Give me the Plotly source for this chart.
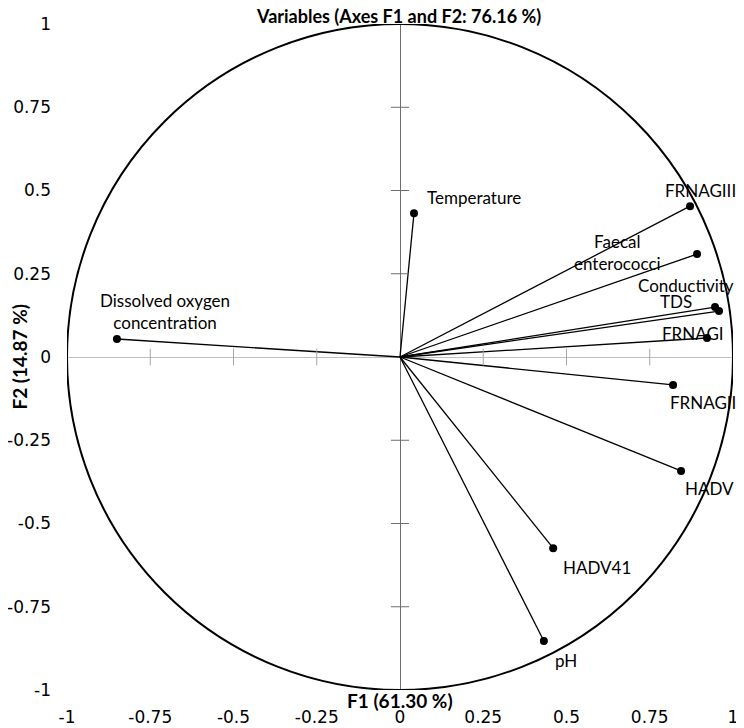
import plotly.graph_objects as go

# correlation circle, variables on F1/F2
variables = ['Temperature', 'FRNAGIII', 'Faecal<br>enterococci', 'Conductivity', 'TDS',
             'FRNAGI', 'FRNAGII', 'HADV', 'HADV41', 'pH', 'Dissolved oxygen<br>concentration']
f1 = [0.042, 0.871, 0.892, 0.946, 0.958, 0.922, 0.820, 0.844, 0.460, 0.432, -0.850]
f2 = [0.432, 0.453, 0.309, 0.150, 0.138, 0.057, -0.084, -0.342, -0.574, -0.853, 0.054]

tick_vals = [-1, -0.75, -0.5, -0.25, 0, 0.25, 0.5, 0.75, 1]
tick_text = ['-1', '-0.75', '-0.5', '-0.25', '0', '0.25', '0.5', '0.75', '1']

# label offsets in pixels (x, y up)
label_shift = [(60, 16), (10, 16), (-80, 2), (-29, 22), (-43, 10), (-14, 5),
               (30, -18), (28, -18), (44, -19), (22, -19), (48, 28)]

LBL_FONT = dict(family='Lato', size=17, color='#000')
TICK_FONT = dict(family='DejaVu Sans', size=17, color='#000')
BOLD_FONT = dict(family='Lato', size=19, color='#000')

fig = go.Figure()

# vectors from the origin
vx, vy = [], []
for x, y in zip(f1, f2):
    vx += [0, x, None]
    vy += [0, y, None]
fig.add_trace(go.Scatter(x=vx, y=vy, mode='lines', line=dict(color='black', width=1.3),
                         hoverinfo='skip'))

# small cross ticks on the two axes
inner = [t for t in tick_vals if t not in (0, -1, 1)]
fig.add_trace(go.Scatter(x=inner, y=[0] * len(inner), mode='markers',
                         marker=dict(symbol='line-ns', size=12, line=dict(color='#a6a6a6', width=1)),
                         hoverinfo='skip'))
fig.add_trace(go.Scatter(x=[0] * len(inner), y=inner, mode='markers',
                         marker=dict(symbol='line-ew', size=13, line=dict(color='#6e6e6e', width=1)),
                         hoverinfo='skip'))

fig.add_trace(go.Scatter(x=f1, y=f2, mode='markers', marker=dict(color='black', size=8),
                         hovertext=variables, hoverinfo='text'))

for name, x, y, (dx, dy) in zip(variables, f1, f2, label_shift):
    fig.add_annotation(x=x, y=y, text=name, showarrow=False, xshift=dx, yshift=dy,
                       font=LBL_FONT, align='center')

# unit circle
fig.add_shape(type='circle', xref='x', yref='y', x0=-1, y0=-1, x1=1, y1=1,
              line=dict(color='black', width=2), layer='above')

fig.add_annotation(xref='paper', yref='paper', x=0.497, y=1.012, yanchor='middle',
                   text='<b>Variables (Axes F1 and F2: 76.16 %)</b>', showarrow=False,
                   font=dict(family='Lato', size=18, color='#000'))
fig.add_annotation(xref='paper', yref='paper', x=0.5, y=-0.016, yanchor='middle',
                   text='<b>F1 (61.30 %)</b>', showarrow=False, font=BOLD_FONT)
fig.add_annotation(xref='paper', yref='paper', x=-0.093, y=0.5, textangle=-90,
                   text='<b>F2 (14.87 %)</b>', showarrow=False, font=BOLD_FONT)

fig.update_xaxes(range=[-1, 1], tickvals=tick_vals, ticktext=tick_text, tickfont=TICK_FONT,
                 showgrid=False, showline=False, zeroline=True, zerolinecolor='#6e6e6e',
                 zerolinewidth=1, ticks='', ticklabelstandoff=15, automargin=False)
fig.update_yaxes(range=[-1, 1], tickvals=tick_vals, ticktext=tick_text, tickfont=TICK_FONT,
                 showgrid=False, showline=False, zeroline=True, zerolinecolor='#bfbfbf',
                 zerolinewidth=1, ticks='', ticklabelstandoff=15, automargin=False)

# page body has an 8px margin, so the figure is 8px smaller each way
fig.update_layout(width=736, height=720, margin=dict(l=59, r=11, t=16, b=38),
                  plot_bgcolor='white', paper_bgcolor='white', showlegend=False)

fig.write_html("out.html")
